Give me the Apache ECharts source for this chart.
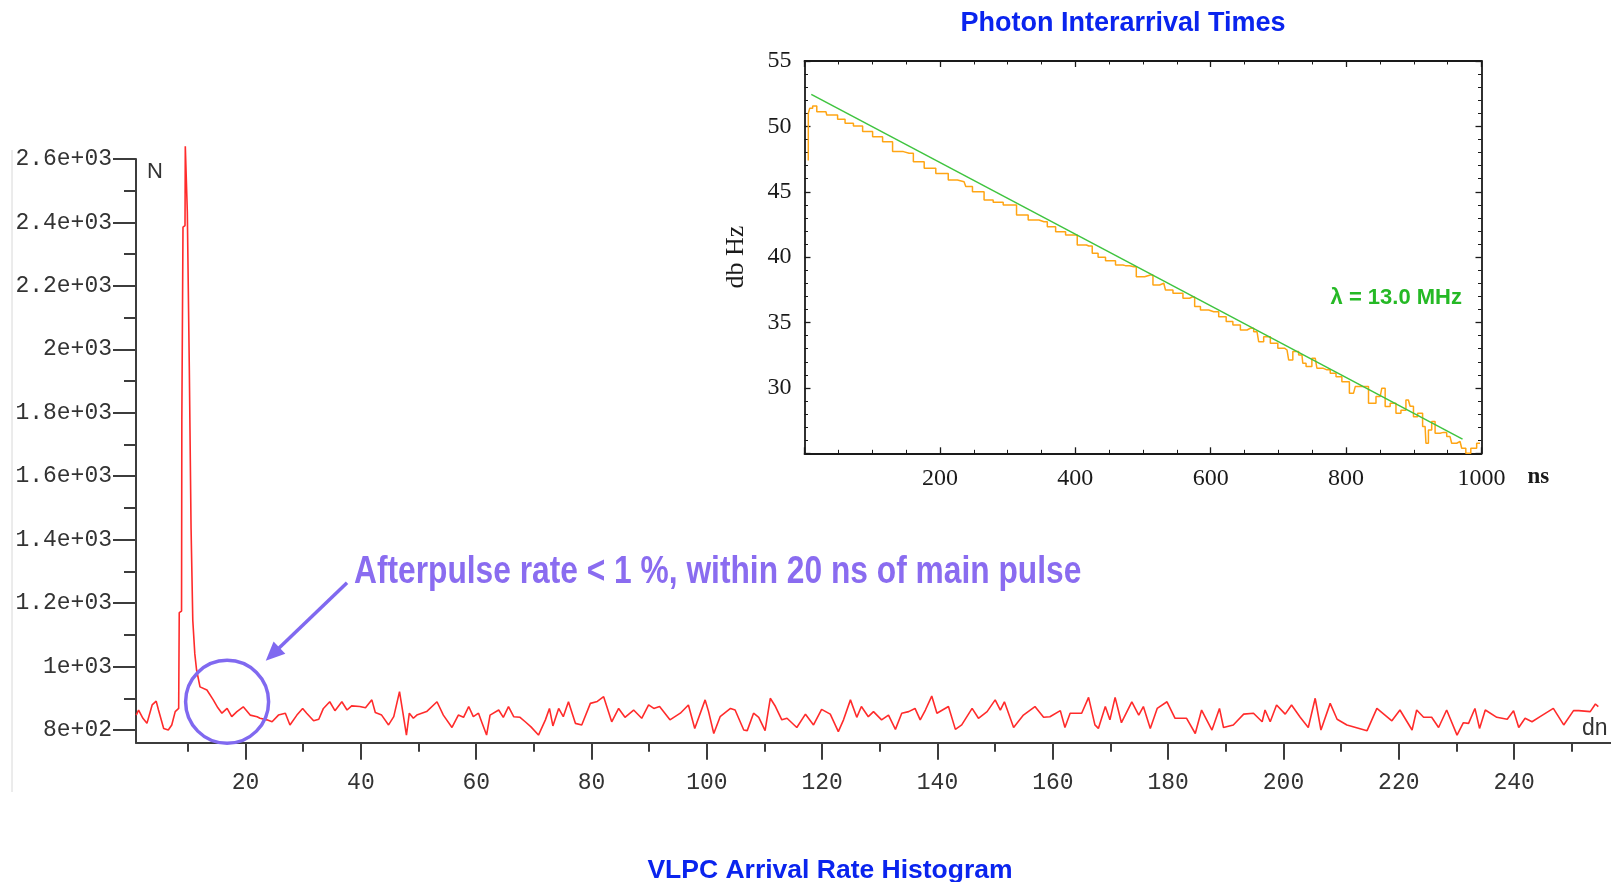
<!DOCTYPE html>
<html><head><meta charset="utf-8">
<script src="https://cdn.jsdelivr.net/npm/echarts@6/dist/echarts.min.js"></script>
<style>html,body{margin:0;padding:0;background:#fff}#c{width:1611px;height:882px}</style>
</head><body><div id="c"></div>
<script>
// ---------- VLPC arrival-rate histogram (dn, N) ----------
const histogram = [
[1.04,847],[1.45,863],[2.2,837],[2.9,821],[3.8,879],[4.5,891],[4.9,863],[5.8,805],[6.6,800],[7.2,816],[7.8,858],[8.4,868],
[8.5,1170],[8.9,1175],[8.95,1780],[9.1,1780],[9.15,2385],[9.5,2390],[9.55,2640],[9.85,2640],[9.9,2434],[10.2,2430],
[10.25,1935],[10.5,1935],[10.55,1435],[10.8,1435],[10.85,1145],[11.1,1140],[11.2,1040],[11.5,990],[12.1,936],[13.3,926],
[14.4,895],[15.2,870],[15.9,853],[16.8,868],[17.6,842],[18.5,858],[19.6,873],[20.8,847],[22.0,842],[22.5,837],[23.7,832],
[24.6,826],[25.7,847],[26.9,853],[27.7,816],[28.9,847],[29.9,868],[30.6,853],[31.8,829],[32.7,834],[33.5,868],[34.6,889],
[35.5,861],[36.7,889],[37.6,863],[38.4,876],[39.8,874],[40.8,870],[41.9,895],[42.5,855],[43.6,847],[44.8,816],[45.7,842],
[46.7,921],[47.3,853],[47.9,784],[48.4,853],[49.1,837],[49.7,847],[51.4,858],[53.2,889],[54.3,847],[55.8,808],[56.9,847],
[57.8,840],[58.7,874],[59.5,842],[60.4,853],[61.0,823],[61.8,784],[62.4,847],[63.9,863],[64.7,840],[65.6,874],[66.5,842],
[67.6,840],[68.5,826],[69.5,810],[70.8,784],[72.0,832],[72.7,868],[73.3,813],[74.3,868],[75.1,842],[76.0,889],[77.2,821],
[78.3,816],[79.8,884],[81.0,890],[82.1,905],[83.5,826],[84.7,868],[85.8,840],[87.3,863],[88.7,837],[89.9,879],[90.8,868],
[91.8,874],[93.6,832],[95.4,853],[96.8,879],[97.9,805],[99.7,895],[100.3,858],[101.2,789],[102.3,842],[104.1,868],[104.9,863],
[106.4,800],[107.0,798],[108.1,853],[109.0,840],[110.1,798],[111.0,900],[111.9,874],[113.0,832],[113.9,837],[115.6,808],
[117.1,850],[118.5,816],[119.9,865],[121.4,850],[122.8,795],[123.7,832],[124.9,895],[126.0,840],[126.8,874],[128.0,842],
[128.9,858],[130.3,832],[131.5,847],[132.7,802],[133.8,853],[135.0,858],[136.1,868],[137.0,832],[137.9,863],[139.0,907],
[139.9,853],[141.9,874],[143.1,802],[144.2,816],[146.0,868],[147.1,837],[148.6,858],[150.0,895],[150.9,863],[151.6,889],
[153.2,808],[154.9,847],[156.9,874],[158.4,840],[159.5,842],[161.3,861],[162.1,808],[163.0,853],[165.0,853],[166.2,903],
[167.3,816],[167.9,805],[169.1,874],[169.9,832],[170.8,903],[171.9,823],[173.7,889],[174.9,847],[175.7,874],[176.9,805],
[178.1,868],[179.8,889],[181.2,837],[183.2,837],[184.7,789],[185.8,863],[187.6,800],[188.9,868],[189.6,808],[191.3,816],
[193.1,850],[194.8,853],[196.3,826],[196.8,863],[197.7,826],[198.8,879],[200.3,850],[201.4,879],[202.9,840],[204.3,808],
[205.5,900],[206.5,800],[208.1,884],[209.3,834],[211.0,816],[214.5,798],[216.2,868],[218.8,829],[220.2,863],[222.3,800],
[223.1,863],[224.3,840],[225.7,840],[226.9,808],[228.3,863],[230.1,784],[231.2,823],[232.1,821],[233.2,868],[234.0,805],
[235.0,863],[237.0,840],[238.8,834],[239.9,861],[240.8,808],[241.9,837],[243.1,826],[244.5,842],[246.8,868],[248.6,816],
[250.3,861],[251.2,861],[253.2,858],[254.1,882],[254.6,874]
];
const histYTicks = [800,1000,1200,1400,1600,1800,2000,2200,2400,2600];
const histYTickLabels = ['8e+02','1e+03','1.2e+03','1.4e+03','1.6e+03','1.8e+03','2e+03','2.2e+03','2.4e+03','2.6e+03'];
const histYMinorTicks = [900,1100,1300,1500,1700,1900,2100,2300,2500];
const histXTicks = [20,40,60,80,100,120,140,160,180,200,220,240];
const histXMinorTicks = [10,30,50,70,90,110,130,150,170,190,210,230,250];

// ---------- Photon interarrival times inset (ns, db Hz) ----------
const interarrival = [
[5.6,47.4],[5.7,51.0],[9.6,51.38],[14.5,51.56],[21.8,51.12],[31.7,51.12],[34,50.87],[44,50.87],[53.8,50.54],[66,50.24],
[78.5,50.03],[93.2,49.6],[108,49.21],[122.7,48.83],[137.5,48.07],[154.6,47.94],[167,47.3],[186.6,46.8],[201.3,46.4],
[208.7,46.4],[216,45.9],[235.7,45.77],[240.7,45.4],[255.5,45.0],[275,44.37],[282.4,44.2],[304.6,43.99],[321.8,43.23],
[339,42.84],[353.7,42.71],[363.6,42.33],[378.3,41.95],[393,41.7],[412.7,40.93],[420,40.85],[430,40.3],[437.3,40.0],
[452,39.73],[466.8,39.4],[474,39.35],[486.4,39.27],[493.8,38.5],[511,38.64],[518.4,37.87],[530.7,38.0],[535.7,37.49],
[552.8,37.24],[565.2,36.86],[572.6,36.95],[580,36.22],[589.7,35.96],[604.4,35.83],[619.2,35.45],[626.5,35.07],[639,34.82],
[648.7,34.43],[658.6,34.56],[668.4,34.3],[673.3,33.54],[683.2,33.92],[693,33.42],[705.3,33.04],[712.7,32.9],[717.6,32.14],
[725,32.78],[734.8,32.52],[737.2,31.89],[744.5,31.63],[754.4,32.27],[759.3,31.51],[771.7,31.38],[781.4,31.12],[788.8,30.86],
[798.7,30.48],[811,29.6],[816,30.1],[828.2,30.1],[838,28.83],[850.3,29.34],[855.2,29.98],[860.2,28.57],[870,28.83],
[877.3,28.07],[884.7,28.3],[892,29.08],[897,28.6],[902,27.8],[909.3,28.07],[916.7,27.04],[919.2,25.77],[924,26.79],
[928.9,27.43],[934,26.54],[943.7,26.6],[953.5,26.28],[958.4,25.77],[968.3,25.9],[973.2,25.39],[980.5,25.0],[987.9,25.39],
[997.8,25.77]
];
const fitLine = [[10,52.45],[972,26.08]];
const fitLabel = 'λ = 13.0 MHz';

// annotation anchors in data units
const circleCenter = [16.8, 889];
const arrowTip = [23.5, 1018];
const arrowTail = [37.6, 1264];
const fitLabelAt = [777, 36.9];

const AX = '#3c3c3c';
const INK = '#1a1a1a';
const PURPLE = '#8069f0';
const chart = echarts.init(document.getElementById('c'), null, {renderer:'canvas'});

const insetX = (pos, labels) => ({
  gridIndex:1, type:'value', min:0, max:1000, interval:200, position:pos,
  axisLine:{show:true, onZero:false, lineStyle:{color:INK, width:1.8}},
  axisTick:{show:true, inside:true, length:6, lineStyle:{color:INK, width:1.3}},
  minorTick:{show:true, splitNumber:4, length:3.5, lineStyle:{color:INK, width:1}},
  axisLabel:{show:labels, showMinLabel:false, margin:13, fontFamily:'Liberation Serif', fontSize:24, color:INK,
    formatter:v => String(v)},
  splitLine:{show:false}, minorSplitLine:{show:false}
});
const insetY = (pos, labels) => ({
  gridIndex:1, type:'value', min:25, max:55, interval:5, position:pos,
  axisLine:{show:true, onZero:false, lineStyle:{color:INK, width:1.8}},
  axisTick:{show:true, inside:true, length:6, lineStyle:{color:INK, width:1.3}},
  minorTick:{show:true, splitNumber:5, length:3.5, lineStyle:{color:INK, width:1}},
  axisLabel:{show:labels, showMinLabel:false, margin:13, fontFamily:'Liberation Serif', fontSize:24, color:INK},
  splitLine:{show:false}, minorSplitLine:{show:false}
});

const xBottom = insetX('bottom', true);
xBottom.name = 'ns'; xBottom.nameLocation = 'end'; xBottom.nameGap = 46;
xBottom.nameTextStyle = {fontFamily:'Liberation Serif', fontWeight:'bold', fontSize:23, color:INK, align:'left', verticalAlign:'top', padding:[12,0,0,0]};
const yLeft = insetY('left', true);
yLeft.name = 'db Hz'; yLeft.nameLocation = 'middle'; yLeft.nameGap = 55; yLeft.nameRotate = 90;
yLeft.nameTextStyle = {fontFamily:'Liberation Serif', fontSize:26, color:INK};

chart.setOption({
  animation:false,
  backgroundColor:'#ffffff',
  title:[
    {text:'Photon Interarrival Times', left:1123, top:10, textAlign:'center', padding:0,
     textStyle:{color:'#0a24ee', fontFamily:'Liberation Sans', fontWeight:'bold', fontSize:27}},
    {text:'VLPC Arrival Rate Histogram', left:830, top:857, textAlign:'center', padding:0,
     textStyle:{color:'#0a24ee', fontFamily:'Liberation Sans', fontWeight:'bold', fontSize:26.5}}
  ],
  grid:[
    {left:136, top:159, right:0, bottom:139.3, containLabel:false},
    {left:804.5, top:61, width:677, height:392.3, containLabel:false}
  ],
  xAxis:[
    {gridIndex:0, type:'value', min:1, max:256.8, position:'bottom',
     axisLine:{show:true, onZero:false, lineStyle:{color:AX, width:2}},
     axisTick:{show:true, customValues:histXTicks, length:17, lineStyle:{color:AX, width:2}},
     axisLabel:{show:true, customValues:histXTicks, margin:29, fontFamily:'Liberation Mono', fontSize:23, color:'#333'},
     splitLine:{show:false},
     name:'dn', nameLocation:'end', nameGap:-29,
     nameTextStyle:{fontFamily:'Liberation Sans', fontSize:23, color:'#333', align:'left', verticalAlign:'bottom', padding:[0,0,3,0]}},
    {gridIndex:0, type:'value', min:1, max:256.8, position:'bottom',
     axisLine:{show:false, onZero:false},
     axisTick:{show:true, customValues:histXMinorTicks, length:9, lineStyle:{color:AX, width:2}},
     axisLabel:{show:false}, splitLine:{show:false}},
    xBottom,
    insetX('top', false)
  ],
  yAxis:[
    {gridIndex:0, type:'value', min:760, max:2600, position:'left',
     axisLine:{show:true, onZero:false, lineStyle:{color:AX, width:2}},
     axisTick:{show:true, customValues:histYTicks, length:23, lineStyle:{color:AX, width:2}},
     axisLabel:{show:true, customValues:histYTicks, margin:24, fontFamily:'Liberation Mono', fontSize:23, color:'#333',
       formatter:v => histYTickLabels[histYTicks.indexOf(Math.round(v))]},
     splitLine:{show:false},
     name:'N', nameLocation:'end', nameGap:-2,
     nameTextStyle:{fontFamily:'Liberation Sans', fontSize:22, color:'#333', align:'left', verticalAlign:'top', padding:[0,0,0,11]}},
    {gridIndex:0, type:'value', min:760, max:2600, position:'left',
     axisLine:{show:false, onZero:false},
     axisTick:{show:true, customValues:histYMinorTicks, length:12, lineStyle:{color:AX, width:2}},
     axisLabel:{show:false}, splitLine:{show:false}},
    yLeft,
    insetY('right', false)
  ],
  series:[
    {type:'line', xAxisIndex:0, yAxisIndex:0, data:histogram, symbol:'none', clip:false,
     lineStyle:{color:'#ff2b2b', width:1.6}, z:3},
    {type:'line', xAxisIndex:2, yAxisIndex:2, data:interarrival, symbol:'none', step:'middle',
     lineStyle:{color:'#ffa514', width:1.5}, z:3},
    {type:'line', xAxisIndex:2, yAxisIndex:2, data:fitLine, symbol:'none',
     lineStyle:{color:'#3fc43f', width:1.5}, z:4}
  ]
});

// annotations
const c = chart.convertToPixel({gridIndex:0}, circleCenter);
const tip = chart.convertToPixel({gridIndex:0}, arrowTip);
const tail = chart.convertToPixel({gridIndex:0}, arrowTail);
const dx = tip[0]-tail[0], dy = tip[1]-tail[1], L = Math.hypot(dx,dy);
const ux = dx/L, uy = dy/L, px = -uy, py = ux;
const headLen = 19, headHalf = 8.5;
const bx = tip[0]-ux*headLen, by = tip[1]-uy*headLen;
const fitPx = chart.convertToPixel({gridIndex:1}, fitLabelAt);

chart.setOption({
  graphic:[
    {type:'line', shape:{x1:12, y1:150, x2:12, y2:792}, style:{stroke:'#d8d8d8', lineWidth:1}, silent:true},
    {type:'circle', shape:{cx:c[0], cy:c[1], r:41.5}, style:{fill:'none', stroke:PURPLE, lineWidth:3.5}, z:10},
    {type:'line', shape:{x1:tail[0], y1:tail[1], x2:bx+ux*2, y2:by+uy*2}, style:{stroke:PURPLE, lineWidth:3.5}, z:10},
    {type:'polygon', shape:{points:[[tip[0],tip[1]],[bx+px*headHalf, by+py*headHalf],[bx-px*headHalf, by-py*headHalf]]},
     style:{fill:PURPLE}, z:10},
    {type:'text', x:354, y:573, scaleX:0.835, z:10,
     style:{text:'Afterpulse rate < 1 %, within 20 ns of main pulse', fill:'#8a6cf0',
       fontFamily:'Liberation Sans', fontWeight:'bold', fontSize:38, align:'left', verticalAlign:'middle'}},
    {type:'text', x:fitPx[0], y:fitPx[1], z:10,
     style:{text:fitLabel, fill:'#25b925', fontFamily:'Liberation Sans', fontWeight:'bold', fontSize:22, align:'left', verticalAlign:'middle'}}
  ]
});
</script></body></html>
